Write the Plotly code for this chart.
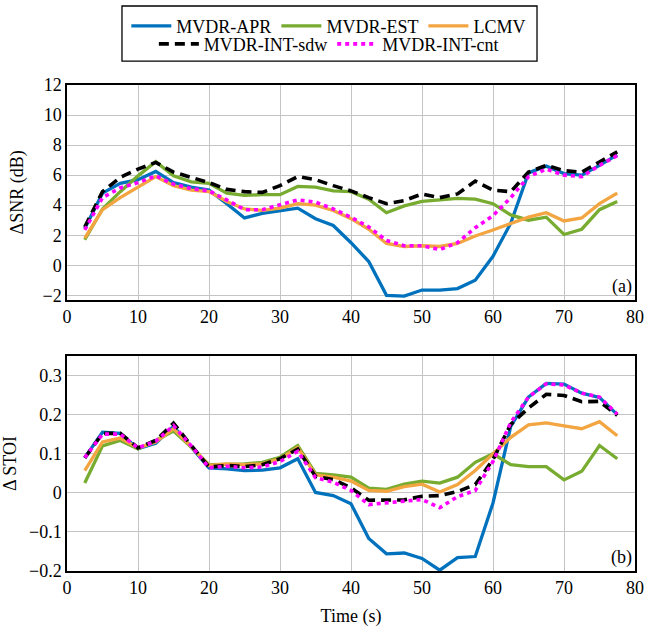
import plotly.graph_objects as go

# ---- data ----
time_s = [2.5 * k for k in range(1, 32)]

snr_apr = [2.45, 4.8, 5.45, 5.7, 6.25, 5.5, 5.2, 5.0, 4.1, 3.15, 3.45, 3.65, 3.8, 3.1, 2.65, 1.5,
           0.25, -2.0, -2.05, -1.65, -1.65, -1.55, -1.0, 0.6, 2.8, 6.15, 6.6, 6.1, 6.0, 6.65, 7.35]
snr_est = [1.7, 3.75, 4.9, 5.95, 6.9, 5.95, 5.55, 5.45, 4.8, 4.65, 4.7, 4.7, 5.25, 5.2, 4.95, 4.9,
           4.4, 3.5, 3.95, 4.25, 4.35, 4.45, 4.4, 4.1, 3.35, 3.0, 3.2, 2.05, 2.4, 3.7, 4.25]
snr_lcmv = [1.8, 3.7, 4.5, 5.2, 5.9, 5.3, 5.0, 4.9, 4.25, 3.75, 3.65, 3.8, 4.1, 4.0, 3.65, 3.1,
            2.4, 1.45, 1.25, 1.3, 1.25, 1.45, 1.95, 2.35, 2.75, 3.2, 3.5, 2.95, 3.15, 4.1, 4.8]
snr_sdw = [2.55, 4.9, 5.85, 6.4, 6.85, 6.2, 5.85, 5.5, 5.05, 4.9, 4.85, 5.3, 5.9, 5.7, 5.3, 4.95,
           4.5, 4.1, 4.3, 4.75, 4.5, 4.75, 5.6, 5.0, 4.9, 6.2, 6.65, 6.3, 6.2, 6.9, 7.55]
snr_cnt = [2.35, 4.5, 5.15, 5.5, 5.95, 5.4, 5.1, 4.95, 4.35, 3.7, 3.7, 4.0, 4.35, 4.2, 3.75, 3.2,
           2.55, 1.65, 1.3, 1.3, 1.05, 1.5, 2.5, 3.3, 4.5, 5.9, 6.4, 6.0, 5.9, 6.65, 7.3]

stoi_apr = [0.09, 0.155, 0.152, 0.113, 0.127, 0.17, 0.117, 0.064, 0.061, 0.057, 0.058, 0.064, 0.087,
            0.001, -0.007, -0.028, -0.117, -0.156, -0.154, -0.168, -0.198, -0.166, -0.163, -0.026,
            0.17, 0.245, 0.28, 0.278, 0.255, 0.244, 0.2]
stoi_est = [0.025, 0.12, 0.134, 0.112, 0.134, 0.158, 0.117, 0.072, 0.073, 0.074, 0.078, 0.091, 0.121,
            0.05, 0.046, 0.04, 0.012, 0.009, 0.022, 0.03, 0.025, 0.04, 0.078, 0.1, 0.072, 0.067,
            0.067, 0.033, 0.055, 0.121, 0.087]
stoi_lcmv = [0.057, 0.13, 0.14, 0.115, 0.13, 0.164, 0.118, 0.07, 0.074, 0.072, 0.074, 0.087, 0.116,
             0.046, 0.04, 0.03, 0.006, 0.004, 0.016, 0.022, 0.002, 0.021, 0.057, 0.1, 0.142, 0.174,
             0.179, 0.171, 0.164, 0.182, 0.146]
stoi_sdw = [0.089, 0.152, 0.152, 0.115, 0.134, 0.178, 0.121, 0.066, 0.07, 0.067, 0.072, 0.087, 0.112,
            0.042, 0.034, 0.013, -0.019, -0.019, -0.018, -0.009, -0.007, 0.003, 0.021, 0.085, 0.175,
            0.217, 0.252, 0.249, 0.233, 0.234, 0.198]
stoi_cnt = [0.09, 0.15, 0.15, 0.115, 0.132, 0.172, 0.12, 0.064, 0.068, 0.064, 0.066, 0.08, 0.106,
            0.039, 0.027, 0.006, -0.03, -0.026, -0.022, -0.017, -0.038, -0.01, 0.006, 0.08, 0.18,
            0.245, 0.279, 0.276, 0.255, 0.245, 0.201]

names = ["MVDR-APR", "MVDR-EST", "LCMV", "MVDR-INT-sdw", "MVDR-INT-cnt"]

# ---- styling ----
FONT = "Liberation Serif"
styles = [
    dict(color="#0072BD", width=3.3, dash="solid"),
    dict(color="#77AC30", width=3.3, dash="solid"),
    dict(color="#F2A540", width=3.3, dash="solid"),
    dict(color="#000000", width=3.6, dash="10px,6px"),
    dict(color="#FF00FF", width=3.6, dash="4px,4px"),
]
legend_ids = ["legend", "legend", "legend", "legend2", "legend2"]

fig = go.Figure()
snr_series = [snr_apr, snr_est, snr_lcmv, snr_sdw, snr_cnt]
stoi_series = [stoi_apr, stoi_est, stoi_lcmv, stoi_sdw, stoi_cnt]
for name, ys, st, lg in zip(names, snr_series, styles, legend_ids):
    fig.add_trace(go.Scatter(x=time_s, y=ys, mode="lines", name=name, line=st,
                             xaxis="x", yaxis="y", legend=lg, showlegend=True))
for name, ys, st, lg in zip(names, stoi_series, styles, legend_ids):
    fig.add_trace(go.Scatter(x=time_s, y=ys, mode="lines", name=name, line=st,
                             xaxis="x2", yaxis="y2", legend=lg, showlegend=False))

axis_common = dict(showline=True, linecolor="black", linewidth=1.5, mirror=True,
                   showgrid=True, gridcolor="#c4c4c4", gridwidth=1, zeroline=False,
                   ticks="", automargin=False,
                   tickfont=dict(family=FONT, size=18, color="black"))

fig.update_layout(
    width=646, height=627,
    margin=dict(l=67, r=11, t=85, b=56, autoexpand=False),
    paper_bgcolor="white", plot_bgcolor="white",
    font=dict(family=FONT, size=18, color="black"),
    xaxis=dict(domain=[0, 1], range=[0, 80], dtick=10, anchor="y", **axis_common),
    yaxis=dict(domain=[0.558, 1], range=[-2.3, 12], dtick=2, anchor="x",
               title=dict(text="ΔSNR (dB)", font=dict(family=FONT, size=18), standoff=14),
               **axis_common),
    xaxis2=dict(domain=[0, 1], range=[0, 80], dtick=10, anchor="y2",
                title=dict(text="Time (s)", font=dict(family=FONT, size=18), standoff=16),
                **axis_common),
    yaxis2=dict(domain=[0, 0.4424], range=[-0.2, 0.35], dtick=0.1, anchor="x2",
                title=dict(text="Δ STOI", font=dict(family=FONT, size=18), standoff=14),
                **axis_common),
    legend=dict(orientation="h", x=0.461, xanchor="center", y=1.121, yanchor="middle",
                font=dict(family=FONT, size=18), bgcolor="rgba(0,0,0,0)", itemwidth=40,
                tracegroupgap=0),
    legend2=dict(orientation="h", x=0.461, xanchor="center", y=1.084, yanchor="middle",
                 font=dict(family=FONT, size=18), bgcolor="rgba(0,0,0,0)", itemwidth=40,
                 tracegroupgap=0),
    shapes=[dict(type="rect", xref="paper", yref="paper", x0=0.0968, x1=0.8275,
                 y0=1.049, y1=1.1626, line=dict(color="black", width=1.3),
                 fillcolor="rgba(0,0,0,0)")],
    annotations=[
        dict(text="(a)", xref="x domain", yref="y domain", x=1, y=0, xanchor="right",
             yanchor="bottom", showarrow=False, font=dict(family=FONT, size=18), xshift=-1, yshift=1),
        dict(text="(b)", xref="x2 domain", yref="y2 domain", x=1, y=0, xanchor="right",
             yanchor="bottom", showarrow=False, font=dict(family=FONT, size=18), xshift=-1, yshift=1),
    ],
)

fig.write_html("out.html", config={"displayModeBar": False},
               post_script="document.body.style.margin='0';document.body.style.overflow='hidden';")
